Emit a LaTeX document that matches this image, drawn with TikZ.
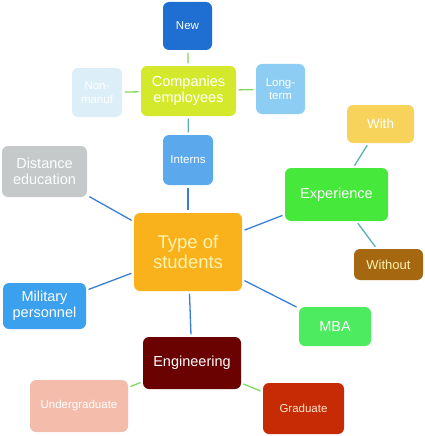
\documentclass[tikz,border=0pt]{standalone}
\usepackage{fontspec}
\setmainfont{Liberation Sans}
\usepackage{xcolor}
\usetikzlibrary{positioning}

\definecolor{newblue}{HTML}{1F6ED2}
\definecolor{compgreen}{HTML}{D5E92C}
\definecolor{manufblue}{HTML}{DCEEF7}
\definecolor{termblue}{HTML}{8ECDF3}
\definecolor{internblue}{HTML}{5BA8EC}
\definecolor{distgray}{HTML}{C5C9C9}
\definecolor{typeorange}{HTML}{F9B21B}
\definecolor{typetext}{HTML}{FFF3B0}
\definecolor{expgreen}{HTML}{46E83B}
\definecolor{withyellow}{HTML}{F8D35C}
\definecolor{withoutbrown}{HTML}{A5670F}
\definecolor{milblue}{HTML}{3BA1EE}
\definecolor{mbagreen}{HTML}{4DEB60}
\definecolor{engred}{HTML}{6A0202}
\definecolor{undersalmon}{HTML}{F4BCAA}
\definecolor{gradred}{HTML}{C72B06}
\definecolor{gradtext}{HTML}{FBE6CC}
\definecolor{linkblue}{HTML}{3A7FD6}
\definecolor{linkgreen}{HTML}{80D95A}
\definecolor{linkteal}{HTML}{5AAFB0}

\begin{document}
\begin{tikzpicture}[
    x=1pt, y=-1pt,
    tbox/.style={rounded corners=6pt, align=center, inner sep=2pt, text=white},
    bigtxt/.style={font=\fontsize{18.5}{20}\selectfont},
    midtxt/.style={font=\fontsize{14.5}{16}\selectfont},
    smalltxt/.style={font=\fontsize{11.5}{13.5}\selectfont},
    tinytxt/.style={font=\fontsize{11.5}{13}\selectfont},
    blueline/.style={draw=linkblue, line width=1.3pt, shorten <=2.5pt, shorten >=2.5pt},
    greenline/.style={draw=linkgreen, line width=1.3pt, shorten <=2.5pt, shorten >=2.5pt},
    tealline/.style={draw=linkteal, line width=1.3pt, shorten <=2.5pt, shorten >=2.5pt}
  ]
    \useasboundingbox (0,0) rectangle (425,436);
    % centre
    \node[tbox, bigtxt, fill=typeorange, text=typetext, minimum width=108pt, minimum height=78pt] (type) at (188,252) {Type of\\students};
    % company branch
    \node[tbox, midtxt, fill=compgreen, minimum width=95pt, minimum height=50pt] (comp) at (188.5,91) {Companies\\employees};
    \node[tbox, smalltxt, fill=newblue, minimum width=49pt, minimum height=48pt] (new) at (187.5,26) {New};
    \node[tbox, smalltxt, fill=manufblue, minimum width=50pt, minimum height=49pt] (manuf) at (97,92.5) {Non-\\manuf};
    \node[tbox, smalltxt, fill=termblue, minimum width=49pt, minimum height=50pt] (term) at (280.5,89) {Long-\\term};
    \node[tbox, tinytxt, fill=internblue, minimum width=50pt, minimum height=50pt] (interns) at (188,160) {Interns};
    % left side
    \node[tbox, midtxt, fill=distgray, minimum width=85pt, minimum height=51pt] (dist) at (44.5,171.5) {Distance\\education};
    \node[tbox, midtxt, fill=milblue, minimum width=83pt, minimum height=46pt] (mil) at (44.5,306) {Military\\personnel};
    % experience branch
    \node[tbox, midtxt, fill=expgreen, minimum width=103pt, minimum height=53pt] (exper) at (336.5,194.5) {Experience};
    \node[tbox, font=\fontsize{13.5}{15}\selectfont, fill=withyellow, minimum width=67pt, minimum height=38pt] (with) at (380.5,124) {With};
    \node[tbox, font=\fontsize{13}{15}\selectfont, fill=withoutbrown, text=typetext, minimum width=69pt, minimum height=31pt] (without) at (388.5,264.5) {Without};
    \node[tbox, midtxt, fill=mbagreen, minimum width=72pt, minimum height=39pt] (mba) at (335,326.5) {MBA};
    % engineering branch
    \node[tbox, midtxt, fill=engred, minimum width=98pt, minimum height=52pt] (eng) at (192,363) {Engineering};
    \node[tbox, tinytxt, fill=undersalmon, minimum width=98pt, minimum height=52pt] (under) at (79,406) {Undergraduate};
    \node[tbox, tinytxt, fill=gradred, text=gradtext, minimum width=81pt, minimum height=51pt] (grad) at (303.5,408.5) {Graduate};
    % links
    \draw[blueline] (type) -- (interns);
    \draw[blueline] (type) -- (dist);
    \draw[blueline] (type) -- (mil);
    \draw[blueline] (type) -- (exper);
    \draw[blueline] (type) -- (mba);
    \draw[blueline] (type) -- (eng);
    \draw[tealline] (comp) -- (interns);
    \draw[greenline] (comp) -- (new);
    \draw[greenline] (comp) -- (manuf);
    \draw[greenline] (comp) -- (term);
    \draw[tealline] (exper) -- (with);
    \draw[tealline] (exper) -- (without);
    \draw[greenline] (eng) -- (under);
    \draw[greenline] (eng) -- (grad);
\end{tikzpicture}
\end{document}
